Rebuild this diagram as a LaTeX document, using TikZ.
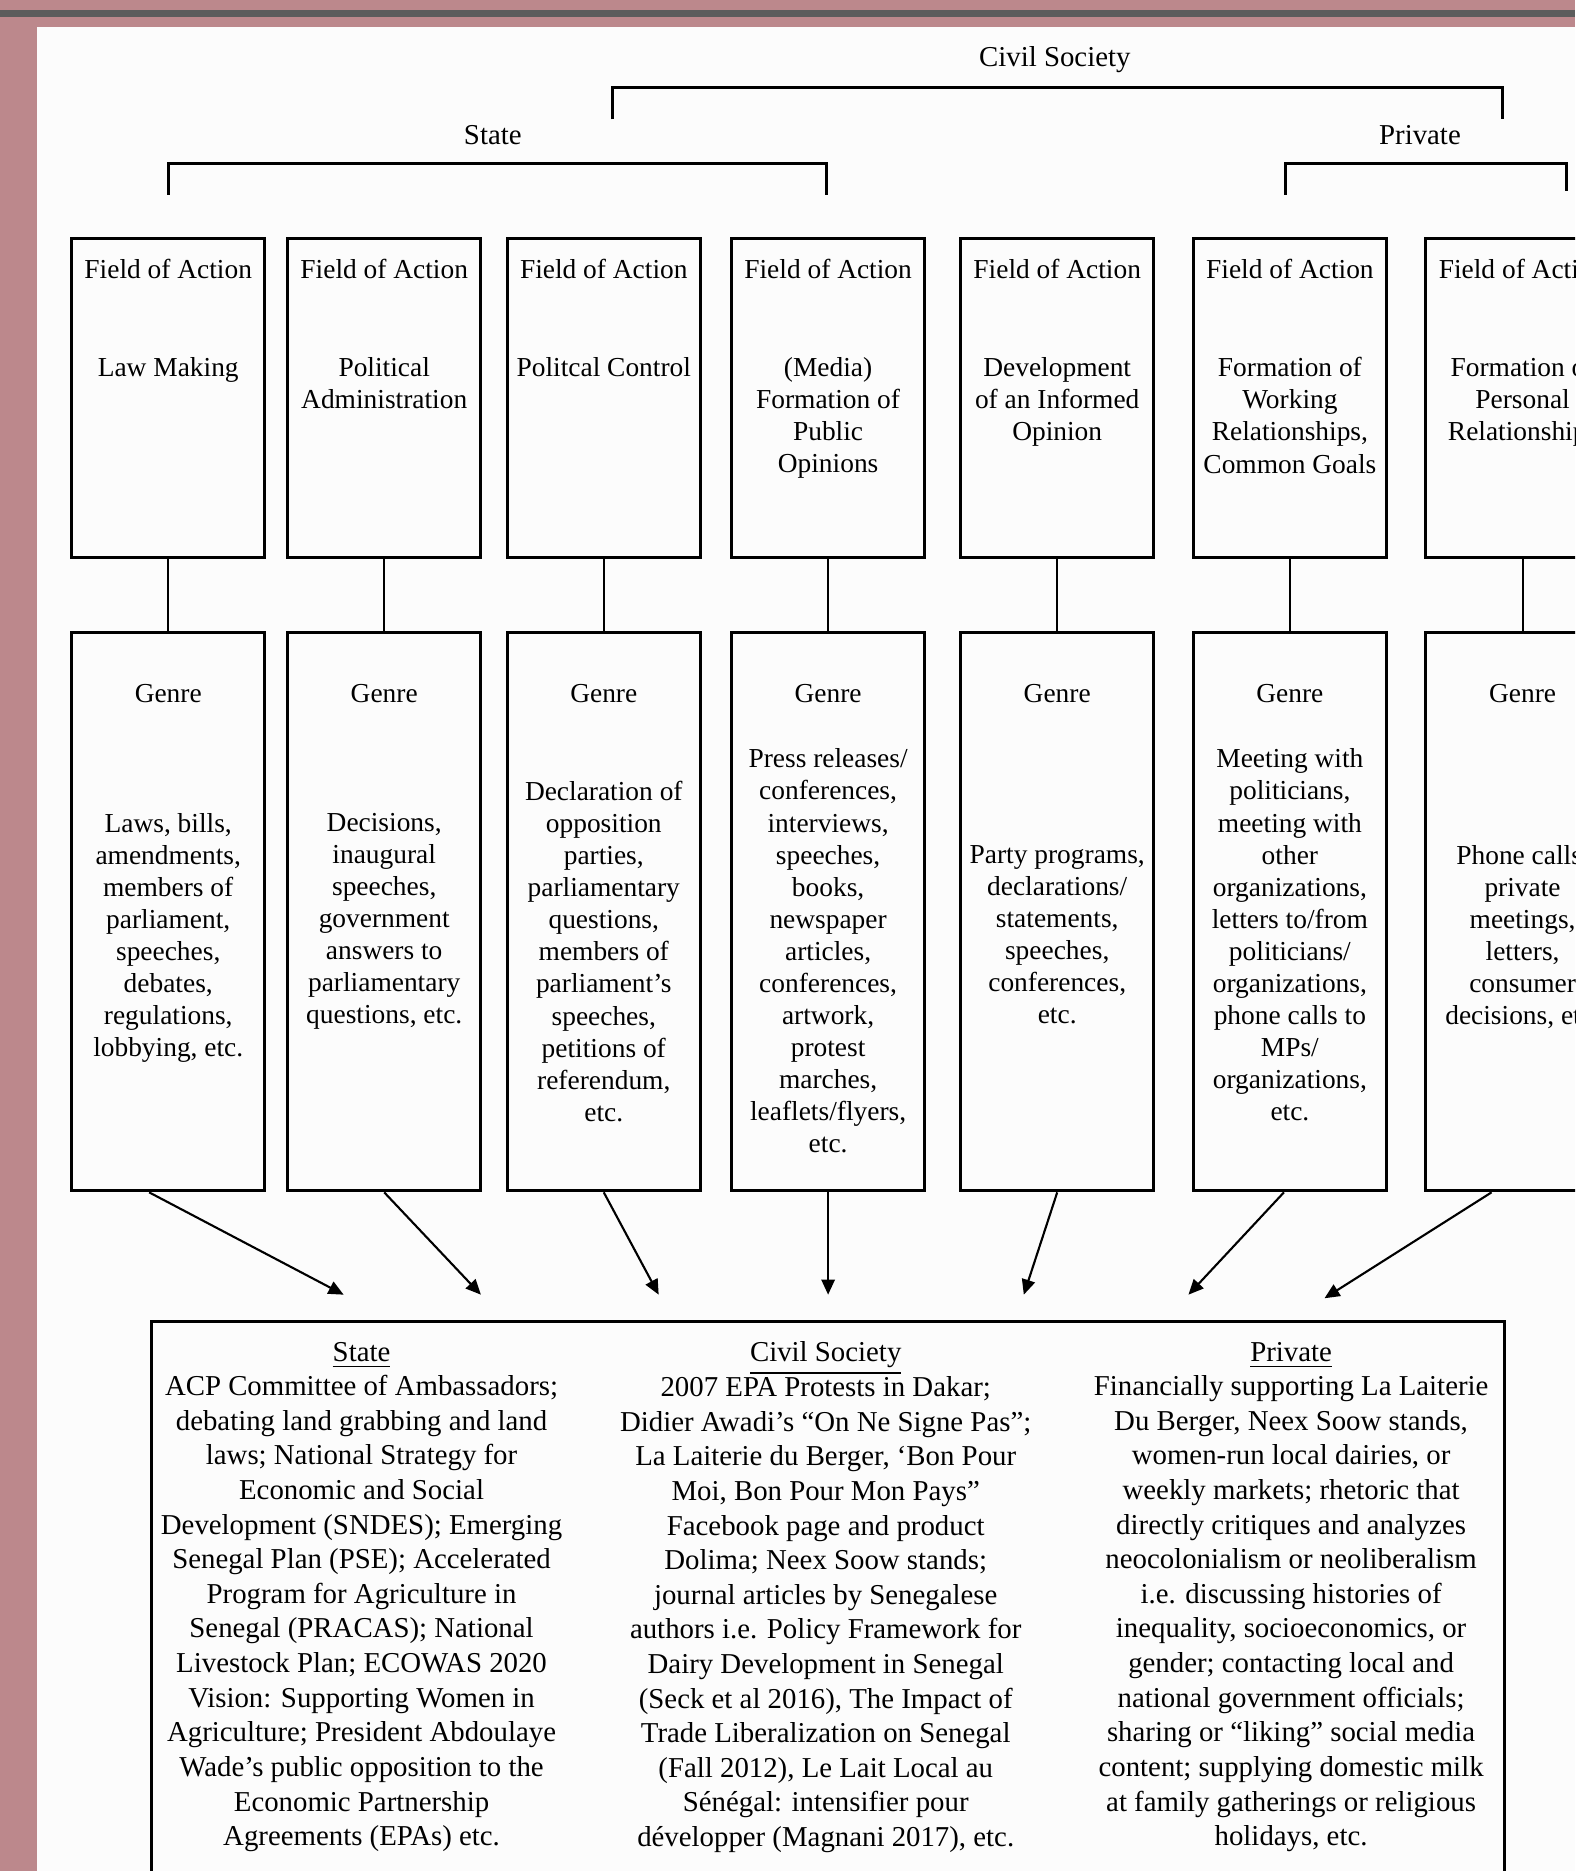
\documentclass[tikz,border=0pt]{standalone}
\usepackage{fontspec}
\setmainfont{Liberation Serif}
\usepackage{tikz}
\usetikzlibrary{positioning,arrows.meta}
\definecolor{slideRose}{RGB}{188,136,140}
\definecolor{barGrey}{RGB}{92,92,92}
\definecolor{paperWhite}{RGB}{252,252,252}

\begin{document}
\begin{tikzpicture}[x=0.011932cm, y=-0.011932cm,
            fieldbox/.style={draw, line width=0.85pt, minimum width=1.933cm, minimum height=3.186cm, inner sep=0pt},
            genrebox/.style={draw, line width=0.85pt, minimum width=1.933cm, minimum height=5.584cm, inner sep=0pt},
            boxtext/.style={align=center, inner sep=0pt, anchor=north, font=\fontsize{7.8}{9.13}\selectfont},
            sumtext/.style={align=center, inner sep=0pt, anchor=north, font=\fontsize{8.2}{9.85}\selectfont},
            headtext/.style={inner sep=0pt, font=\fontsize{8.2}{9.85}\selectfont},
            bracket/.style={line width=0.85pt},
            link/.style={line width=0.6pt},
            feed/.style={line width=0.6pt, -{Triangle[length=4.3pt, width=3.8pt]}}
        ]
            % Slide background
            \useasboundingbox (0,0) rectangle (1320,1568);
            \clip (0,0) rectangle (1320,1568);
            \fill [slideRose] (0,0) rectangle (1320,1568);
            \fill [barGrey] (0,8) rectangle (1320,14);
            \fill [paperWhite] (31,23) rectangle (1320,1568);

            % Group labels and brackets
            \node [headtext] (civil) at (884,50) {Civil Society};
            \node [headtext] (state) at (413,113) {State};
            \node [headtext] (private) at (1190,113) {Private};
            \draw [bracket] (513,100) -- (513,73) -- (1259,73) -- (1259,100);
            \draw [bracket] (141,163) -- (141,137) -- (693,137) -- (693,163);
            \draw [bracket] (1077,163) -- (1077,137) -- (1313,137) -- (1313,160);

            % Columns
            \foreach \i/\x in {1/141, 2/322, 3/506, 4/694, 5/886, 6/1081, 7/1276}{
                \node [fieldbox] (fa\i) at (\x,333.5) {};
                \node [genrebox] (gb\i) at (\x,764) {};
                \draw [link] (fa\i) -- (gb\i);
                \node [boxtext] (fh\i) at (\x,217) {Field of Action};
                \node [boxtext] (gh\i) at (\x,573) {Genre};
            }

            % Fields of action
            \node [boxtext] (ft1) at (141,299) {Law Making};
            \node [boxtext] (ft2) at (322,299) {Political\\Administration};
            \node [boxtext] (ft3) at (506,299) {Politcal Control};
            \node [boxtext] (ft4) at (694,299) {(Media)\\Formation of\\Public\\Opinions};
            \node [boxtext] (ft5) at (886,299) {Development\\of an Informed\\Opinion};
            \node [boxtext] (ft6) at (1081,299) {Formation of\\Working\\Relationships,\\Common Goals};
            \node [boxtext] (ft7) at (1276,299) {Formation of\\Personal\\Relationships};

            % Genres
            \node [boxtext] (gt1) at (141,681) {Laws, bills,\\amendments,\\members of\\parliament,\\speeches,\\debates,\\regulations,\\lobbying, etc.};
            \node [boxtext] (gt2) at (322,681) {Decisions,\\inaugural\\speeches,\\government\\answers to\\parliamentary\\questions, etc.};
            \node [boxtext] (gt3) at (506,654) {Declaration of\\opposition\\parties,\\parliamentary\\questions,\\members of\\parliament’s\\speeches,\\petitions of\\referendum,\\etc.};
            \node [boxtext] (gt4) at (694,627) {Press releases/\\conferences,\\interviews,\\speeches,\\books,\\newspaper\\articles,\\conferences,\\artwork,\\protest\\marches,\\leaflets/flyers,\\etc.};
            \node [boxtext] (gt5) at (886,708) {Party programs,\\declarations/\\statements,\\speeches,\\conferences,\\etc.};
            \node [boxtext] (gt6) at (1081,627) {Meeting with\\politicians,\\meeting with\\other\\organizations,\\letters to/from\\politicians/\\organizations,\\phone calls to\\MPs/\\organizations,\\etc.};
            \node [boxtext] (gt7) at (1276,708) {Phone calls,\\private\\meetings,\\letters,\\consumer\\decisions, etc.};

            % Summary box
            \node [draw, line width=0.85pt, minimum width=13.531cm, minimum height=6cm, anchor=north west, inner sep=0pt] (sumbox) at (126,1106) {};

            % Arrows into summary
            \foreach \i/\dx/\tx/\ty in {1/-16/288/1085, 2/0/403/1085, 3/0/552/1085, 4/0/694/1085, 5/0/858/1085, 6/-5/996/1085, 7/-26/1110/1088}{
                \coordinate (t\i) at (\tx,\ty);
                \draw [feed] ([shift={(\dx,0)}]gb\i.south) -- (t\i);
            }

            \node [sumtext] (sum1) at (303,1124) {\underline{State}\\ACP Committee of Ambassadors;\\debating land grabbing and land\\laws; National Strategy for\\Economic and Social\\Development (SNDES); Emerging\\Senegal Plan (PSE); Accelerated\\Program for Agriculture in\\Senegal (PRACAS); National\\Livestock Plan; ECOWAS 2020\\Vision: Supporting Women in\\Agriculture; President Abdoulaye\\Wade’s public opposition to the\\Economic Partnership\\Agreements (EPAs) etc.};
            \node [sumtext] (sum2) at (692,1124) {\underline{Civil Society}\\2007 EPA Protests in Dakar;\\Didier Awadi’s “On Ne Signe Pas”;\\La Laiterie du Berger, ‘Bon Pour\\Moi, Bon Pour Mon Pays”\\Facebook page and product\\Dolima; Neex Soow stands;\\journal articles by Senegalese\\authors i.e. Policy Framework for\\Dairy Development in Senegal\\(Seck et al 2016), The Impact of\\Trade Liberalization on Senegal\\(Fall 2012), Le Lait Local au\\Sénégal: intensifier pour\\développer (Magnani 2017), etc.};
            \node [sumtext] (sum3) at (1082,1124) {\underline{Private}\\Financially supporting La Laiterie\\Du Berger, Neex Soow stands,\\women-run local dairies, or\\weekly markets; rhetoric that\\directly critiques and analyzes\\neocolonialism or neoliberalism\\i.e. discussing histories of\\inequality, socioeconomics, or\\gender; contacting local and\\national government officials;\\sharing or “liking” social media\\content; supplying domestic milk\\at family gatherings or religious\\holidays, etc.};
        \end{tikzpicture}
\end{document}
